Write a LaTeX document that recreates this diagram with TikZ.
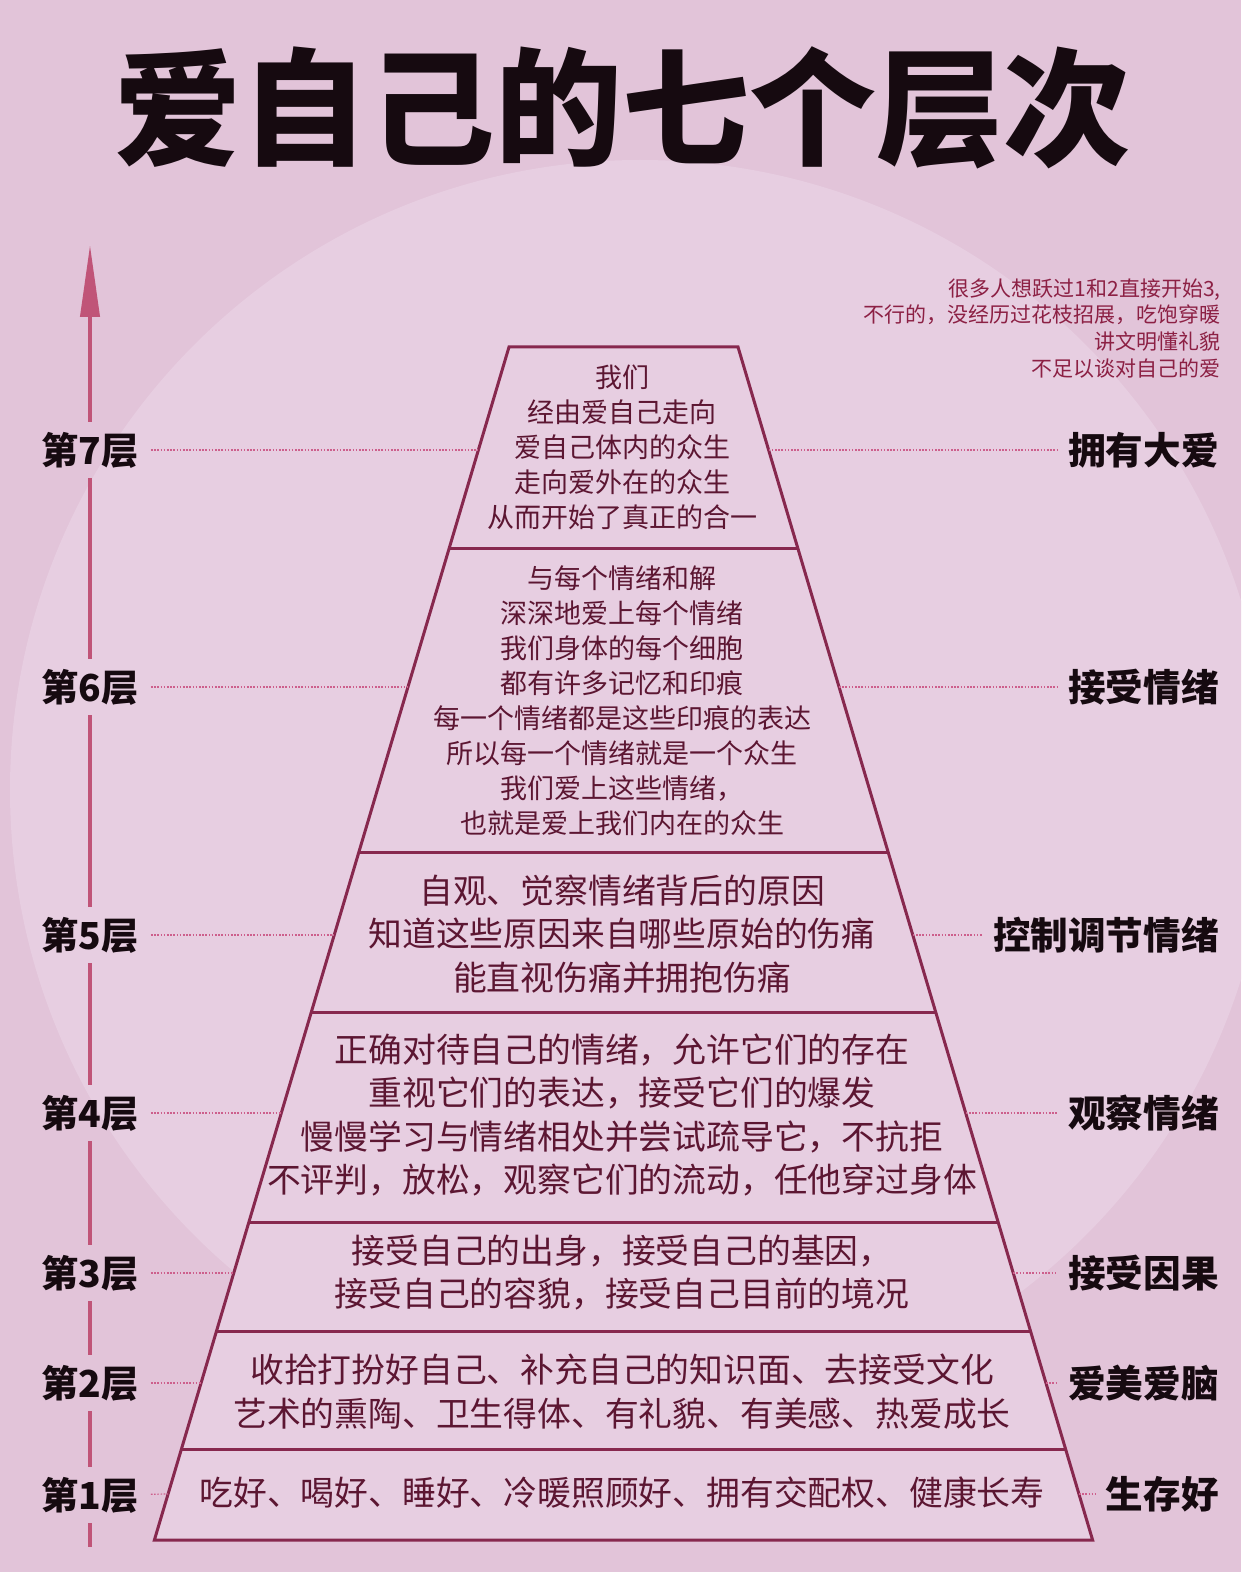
\documentclass[tikz,border=0pt]{standalone}
\usepackage{fontspec}
\usetikzlibrary{arrows.meta}
\newfontfamily\cjk{Noto Sans CJK SC}
\definecolor{bgout}{RGB}{226,196,217}
\definecolor{bgin}{RGB}{231,206,225}
\definecolor{linec}{RGB}{135,40,78}
\definecolor{textc}{RGB}{92,22,50}
\definecolor{axisc}{RGB}{192,84,120}
\definecolor{dotc}{RGB}{205,95,140}
\definecolor{notec}{RGB}{140,32,68}
\definecolor{labc}{RGB}{22,10,16}
\begin{document}
\begin{tikzpicture}[x=0.5pt,y=-0.5pt,
  pyr/.style={draw=linec,line width=1.5pt,line join=miter},
  small/.style={text=textc,align=center,inner sep=0pt,font=\cjk\fontsize{13.5}{17.5}\selectfont},
  big/.style={text=textc,align=center,inner sep=0pt,font=\cjk\fontsize{16.9}{21.75}\selectfont},
  leftlab/.style={text=labc,inner sep=0pt,font=\cjk\bfseries\fontsize{18.6}{20}\selectfont},
  rightlab/.style={text=labc,inner sep=0pt,anchor=east,font=\cjk\bfseries\fontsize{18.8}{20}\selectfont},
  dotline/.style={draw=dotc,line width=0.6pt,dash pattern=on 0.8pt off 0.8pt},
  axisline/.style={draw=axisc,line width=2pt}]
\useasboundingbox (0,0) rectangle (1241,1572);
% background
\fill[bgout] (0,0) rectangle (1241,1572);
\begin{scope}
  \clip (0,0) rectangle (1241,1572);
  \fill[bgin] (640,790) circle[radius=630];
\end{scope}
% title
\node[text=labc,inner sep=0pt,font=\cjk\bfseries\fontsize{63.5}{66}\selectfont] (title) at (622.5,108) {爱自己的七个层次};
% note
\node[text=notec,anchor=north east,align=right,inner sep=0pt,font=\cjk\fontsize{10.5}{13.35}\selectfont] (note) at (1221,278)
  {很多人想跃过1和2直接开始3,\\不行的，没经历过花枝招展，吃饱穿暖\\讲文明懂礼貌\\不足以谈对自己的爱};
% pyramid coordinates
\coordinate (L0) at (509,347);   \coordinate (R0) at (738,347);
\coordinate (L1) at (449.3,548); \coordinate (R1) at (797.7,548);
\coordinate (L2) at (358.9,852); \coordinate (R2) at (888.1,852);
\coordinate (L3) at (311.4,1012);\coordinate (R3) at (935.6,1012);
\coordinate (L4) at (248.9,1222);\coordinate (R4) at (998.1,1222);
\coordinate (L5) at (216.6,1331);\coordinate (R5) at (1030.4,1331);
\coordinate (L6) at (181.5,1449);\coordinate (R6) at (1065.5,1449);
\coordinate (L7) at (154.4,1540);\coordinate (R7) at (1092.6,1540);
\fill[bgin] (L0) -- (R0) -- (R7) -- (L7) -- cycle;
\draw[pyr] (L0) -- (R0) -- (R7) -- (L7) -- cycle;
\foreach \i in {1,...,6} {\draw[pyr] (L\i) -- (R\i);}
% edge points at label heights
\coordinate (eL7) at (478.4,450);  \coordinate (eR7) at (768.6,450);
\coordinate (eL6) at (408.0,687);  \coordinate (eR6) at (839.0,687);
\coordinate (eL5) at (334.2,935);  \coordinate (eR5) at (912.8,935);
\coordinate (eL4) at (281.3,1113); \coordinate (eR4) at (965.7,1113);
\coordinate (eL3) at (233.8,1273); \coordinate (eR3) at (1013.2,1273);
\coordinate (eL2) at (201.1,1383); \coordinate (eR2) at (1045.9,1383);
\coordinate (eL1) at (168.1,1494); \coordinate (eR1) at (1078.9,1494);
% layer texts
\node[small] (t7) at (622,447) {我们\\经由爱自己走向\\爱自己体内的众生\\走向爱外在的众生\\从而开始了真正的合一};
\node[small] (t6) at (622,700.5) {与每个情绪和解\\深深地爱上每个情绪\\我们身体的每个细胞\\都有许多记忆和印痕\\每一个情绪都是这些印痕的表达\\所以每一个情绪就是一个众生\\我们爱上这些情绪，\\也就是爱上我们内在的众生};
\node[big] (t5) at (622,934) {自观、觉察情绪背后的原因\\知道这些原因来自哪些原始的伤痛\\能直视伤痛并拥抱伤痛};
\node[big] (t4) at (622,1115) {正确对待自己的情绪，允许它们的存在\\重视它们的表达，接受它们的爆发\\慢慢学习与情绪相处并尝试疏导它，不抗拒\\不评判，放松，观察它们的流动，任他穿过身体};
\node[big] (t3) at (622,1272.5) {接受自己的出身，接受自己的基因，\\接受自己的容貌，接受自己目前的境况};
\node[big] (t2) at (622,1391.5) {收拾打扮好自己、补充自己的知识面、去接受文化\\艺术的熏陶、卫生得体、有礼貌、有美感、热爱成长};
\node[big] (t1) at (622,1493) {吃好、喝好、睡好、冷暖照顾好、拥有交配权、健康长寿};
% left labels
\node[leftlab] (l7) at (90,450) {第7层};
\node[leftlab] (l6) at (90,687) {第6层};
\node[leftlab] (l5) at (90,935) {第5层};
\node[leftlab] (l4) at (90,1113) {第4层};
\node[leftlab] (l3) at (90,1273) {第3层};
\node[leftlab] (l2) at (90,1383) {第2层};
\node[leftlab] (l1) at (90,1495) {第1层};
% right labels
\node[rightlab] (r7) at (1219,450) {拥有大爱};
\node[rightlab] (r6) at (1219,687) {接受情绪};
\node[rightlab] (r5) at (1219,935) {控制调节情绪};
\node[rightlab] (r4) at (1219,1113) {观察情绪};
\node[rightlab] (r3) at (1219,1273) {接受因果};
\node[rightlab] (r2) at (1219,1383) {爱美爱脑};
\node[rightlab] (r1) at (1219,1494) {生存好};
% dotted leaders
\foreach \i in {1,...,7} {
  \draw[dotline,shorten <=6pt] (l\i) -- (eL\i);
  \draw[dotline,shorten >=5pt] (eR\i) -- (r\i);
}
% axis
\coordinate (tip) at (90,245);
\coordinate (axend) at (90,1547);
\draw[axisline,shorten <=5pt,-{Triangle[length=36pt,width=9.5pt]}] (l7.north) -- (tip);
\draw[axisline,shorten <=5pt,shorten >=5pt] (l7.south) -- (l6.north);
\draw[axisline,shorten <=5pt,shorten >=5pt] (l6.south) -- (l5.north);
\draw[axisline,shorten <=5pt,shorten >=5pt] (l5.south) -- (l4.north);
\draw[axisline,shorten <=5pt,shorten >=5pt] (l4.south) -- (l3.north);
\draw[axisline,shorten <=5pt,shorten >=5pt] (l3.south) -- (l2.north);
\draw[axisline,shorten <=5pt,shorten >=5pt] (l2.south) -- (l1.north);
\draw[axisline,shorten <=5pt] (l1.south) -- (axend);
\end{tikzpicture}
\end{document}
